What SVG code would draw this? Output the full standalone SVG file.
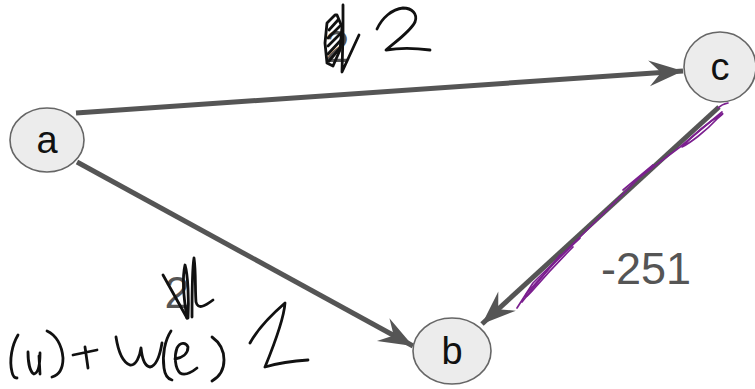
<svg xmlns="http://www.w3.org/2000/svg" width="755" height="389" viewBox="0 0 755 389">
<style>
.node ellipse{fill:#ececec;stroke:#666;stroke-width:1.6}
.node text{font-family:"Liberation Sans",Arial,sans-serif;font-size:38px;fill:#111;text-anchor:middle}
.edge{stroke:#555;stroke-width:5;fill:none}
.elabel{font-family:"Liberation Sans",Arial,sans-serif;font-size:45px;fill:#555}
.ink{fill:none;stroke:#111;stroke-width:2.8;stroke-linecap:round;stroke-linejoin:round}
.ink2{fill:none;stroke:#7b1f8f;stroke-width:1.7;stroke-linecap:round;stroke-linejoin:round}
</style>
<defs>
<marker id="arr" markerUnits="userSpaceOnUse" markerWidth="40" markerHeight="30" viewBox="-36 -15 40 30" refX="0" refY="0" orient="auto">
<path d="M0,0 L-34,-13 L-22,0 L-34,13 Z" fill="#555"/>
</marker>
</defs>
<rect width="755" height="389" fill="#fff"/>
<g id="connectors">
<path class="edge" d="M76,113 L683,71" marker-end="url(#arr)"/>
<path class="edge" d="M77,162 L413,346" marker-end="url(#arr)"/>
<path class="edge" d="M719,107 L482,324" marker-end="url(#arr)"/>
<text class="elabel" x="337" y="62" text-anchor="middle">2</text>
<text class="elabel" x="177" y="308" text-anchor="middle">2</text>
<text class="elabel" x="601" y="284">-251</text>
</g>
<g id="node-a" class="node"><ellipse cx="47" cy="140" rx="37" ry="32"/><text x="47" y="153">a</text></g>
<g id="node-b" class="node"><ellipse cx="452" cy="351" rx="39" ry="33"/><text x="452" y="364">b</text></g>
<g id="node-c" class="node"><ellipse cx="720" cy="67" rx="36" ry="35"/><text x="720" y="80">c</text></g>
<g id="annotations">
<path class="ink" d="M335,15 L327,23 L325,43 L327,63 L333,66 L340,50 L342,27 L337,15 Z"/>
<path class="ink" d="M329,30 L338,20 M328,38 L340,26 M328,46 L341,33 M328,54 L341,40 M329,61 L340,48"/>
<path class="ink" d="M343,5 L343,33 L342,72 L359,35"/>
<path class="ink" d="M377,29 C382,18 392,9 403,8 C412,8 418,14 415,22 C410,32 395,42 386,50 C398,48 415,48 430,50"/>
<path class="ink" d="M163,275 L187,318"/>
<path class="ink" d="M187,318 C184,300 182,278 185,265 C188,275 189,300 188,318"/>
<path class="ink" d="M192,317 C192,295 192,270 194,258 C196,272 195,290 196,302 C198,310 205,306 213,300"/>
<path class="ink" d="M18,335 C12,345 9,360 12,372 C13,377 15,378 17,378"/>
<path class="ink" d="M28,352 C28,362 30,372 34,374 C38,373 40,365 40,353 M39,356 L40,374"/>
<path class="ink" d="M47,331 C56,335 62,345 63,358 C63,368 59,375 52,377"/>
<path class="ink" d="M73,355 L97,350 M85,347 L88,368"/>
<path class="ink" d="M116,337 C118,350 122,362 130,365 C136,366 140,356 141,348 C142,358 144,366 150,367 C156,366 160,355 162,343"/>
<path class="ink" d="M171,331 C165,340 162,355 164,368 C165,376 168,379 172,380"/>
<path class="ink" d="M175,359 C182,358 188,354 188,347 C186,342 180,342 177,348 C174,356 175,368 180,373 C185,376 192,372 197,368"/>
<path class="ink" d="M212,337 C219,342 224,350 224,360 C224,370 219,377 212,381"/>
<path class="ink" d="M250,343 C256,332 270,316 285,303 C284,318 274,345 265,367 C275,364 290,361 308,360"/>
<path class="ink2" d="M728,103 C723,104 720,106 718,108"/>
<path class="ink2" d="M722,114 C712,120 695,133 682,147 C690,143 705,132 718,118 C722,115 724,113 722,114"/>
<path class="ink2" d="M722,112 L680,147 L640,177 L580,237 L533,283 L517,308"/>
<path class="ink2" d="M653,165 L623,190"/>
<path class="ink2" d="M580,238 C570,247 550,267 527,293 C524,298 525,299 533,290 C545,276 562,258 573,247"/>
<path class="ink2" d="M560,255 C548,270 535,285 522,302"/>
</g>
</svg>
